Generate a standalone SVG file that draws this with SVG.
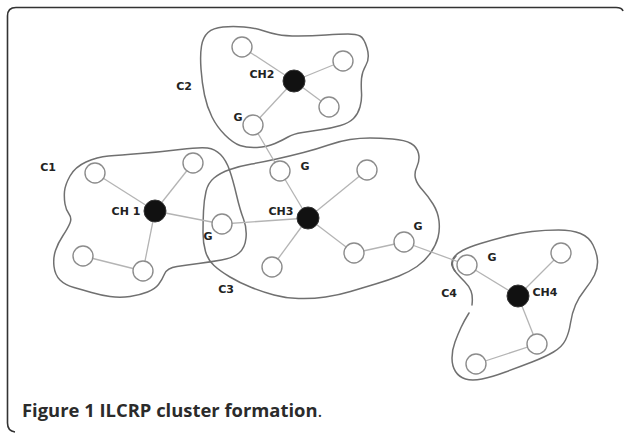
<svg xmlns="http://www.w3.org/2000/svg" width="624" height="433" viewBox="0 0 624 433">
<style>
.frame{fill:none;stroke:#333;stroke-width:1.6}
.cl{fill:none;stroke:#707070;stroke-width:1.5;stroke-linejoin:round;stroke-linecap:round}
.e{stroke:#b4b4b4;stroke-width:1.3;fill:none}
.n{fill:#fff;stroke:#8c8c8c;stroke-width:1.4}
.h{fill:#111;stroke:#333;stroke-width:1}
.lb{font-family:"DejaVu Sans",sans-serif;font-weight:bold;font-size:11px;fill:#222;text-anchor:middle}
.cap{font-family:"Open Sans","Liberation Sans",sans-serif;font-weight:bold;font-size:18.4px;fill:#2b2b2b}
</style>
<path class="frame" d="M623,11 Q622,7.5 616,7.5 L16,7.5 Q7.5,7.5 7.5,16 L7.5,423 Q7.5,431 15,432"/>
<g id="outlines">
<path id="C1-outline" class="cl" d="M64.5,191.5 Q65,185 70,176 Q75,167 86,162 Q97,157 108.5,156 Q120,155 140,153.5 Q160,152 180,149.5 Q200,147 207.5,148 Q215,149 220.5,154.5 Q226,160 229.5,170 Q233,180 236.5,195 Q240,210 243.5,219 Q247,228 246,238 Q245,248 239,253 Q233,258 221.5,260 Q210,262 198.5,263.5 Q187,265 177,266.5 Q167,268 164.5,274 Q162,280 158.5,284.5 Q155,289 147.5,292 Q140,295 130,296.5 Q120,298 110,296.5 Q100,295 91.5,292.5 Q83,290 74,287.5 Q65,285 60,280 Q55,275 54,266.5 Q53,258 55.5,250.5 Q58,243 63,235.5 Q68,228 70,223 Q72,218 69,214 Q66,210 65,204 Q64,198 64.5,191.5 Z"/>
<path id="C2-outline" class="cl" d="M201.5,46 Q203,37 208,32.5 Q213,28 223,27 Q233,26 244,27 Q255,28 262.5,30.5 Q270,33 277.5,34.5 Q285,36 298.5,36 Q312,36 326,35 Q340,34 348,34 Q356,34 360,36 Q364,38 367,48 Q370,58 366,65 Q362,72 361.5,78.5 Q361,85 361.5,92.5 Q362,100 360,107 Q358,114 353.5,118.5 Q349,123 340.5,125.5 Q332,128 322,129.5 Q312,131 302.5,132.5 Q293,134 288,137 Q283,140 275,143.5 Q267,147 257,147.5 Q247,148 240,145.5 Q233,143 225,135 Q217,127 212,117 Q207,107 204.5,95 Q202,83 201,69 Q200,55 201.5,46 Z"/>
<path id="C3-outline" class="cl" d="M203.5,211 Q204,200 206,191.5 Q208,183 214,178 Q220,173 230,169.5 Q240,166 251.5,164 Q263,162 276.5,159 Q290,156 303.5,152.5 Q317,149 328.5,145 Q340,141 350,139.5 Q360,138 370,138 Q380,138 392.5,139 Q405,140 411,143.5 Q417,147 418.5,153.5 Q420,160 417,166.5 Q414,173 415.5,178.5 Q417,184 422.5,190 Q428,196 433,204 Q438,212 439,221 Q440,230 438,237.5 Q436,245 430.5,253 Q425,261 417,266.5 Q409,272 399,276 Q389,280 375.5,284 Q362,288 350.5,291.5 Q339,295 325.5,297 Q312,299 298.5,298.5 Q285,298 274,295 Q263,292 251.5,287.5 Q240,283 230,277 Q220,271 214,265.5 Q208,260 205.5,251.5 Q203,243 203,232.5 Q203,222 203.5,211 Z"/>
<path id="C4-outline" class="cl" d="M472,305 Q473,296 471,291 Q469,286 464.5,281.5 Q460,277 456.5,273 Q453,269 452,265.5 Q451,262 453.5,258 Q456,254 462.5,250.5 Q469,247 480.5,243.5 Q492,240 505.5,236.5 Q519,233 532,231.5 Q545,230 558.5,230 Q572,230 580.5,233.5 Q589,237 593,245 Q597,253 597.5,260.5 Q598,268 594.5,275 Q591,282 585,289.5 Q579,297 575.5,305 Q572,313 570.5,323 Q569,333 565.5,340 Q562,347 553.5,352 Q545,357 532,362 Q519,367 505.5,372 Q492,377 482,379 Q472,381 465.5,379 Q459,377 455.5,371.5 Q452,366 452,358 Q452,350 455,342 Q458,334 461,327.5 Q464,321 469,313"/>
<path class="cl" d="M456,256 Q449,263 455,271"/>
</g>
<g id="connectors">
<line class="e" x1="294" y1="81" x2="242" y2="47"/>
<line class="e" x1="294" y1="81" x2="343" y2="61"/>
<line class="e" x1="294" y1="81" x2="329" y2="107"/>
<line class="e" x1="294" y1="81" x2="253" y2="125"/>
<line class="e" x1="253" y1="125" x2="280" y2="171"/>
<line class="e" x1="155" y1="211" x2="95" y2="173"/>
<line class="e" x1="155" y1="211" x2="193" y2="163"/>
<line class="e" x1="155" y1="211" x2="143" y2="271"/>
<line class="e" x1="143" y1="271" x2="83" y2="256"/>
<line class="e" x1="155" y1="211" x2="222" y2="224"/>
<line class="e" x1="222" y1="224" x2="308" y2="218"/>
<line class="e" x1="308" y1="218" x2="280" y2="171"/>
<line class="e" x1="308" y1="218" x2="367" y2="170"/>
<line class="e" x1="308" y1="218" x2="272" y2="267"/>
<line class="e" x1="308" y1="218" x2="354" y2="253"/>
<line class="e" x1="354" y1="253" x2="404" y2="242"/>
<line class="e" x1="404" y1="242" x2="467" y2="265"/>
<line class="e" x1="467" y1="265" x2="518" y2="296"/>
<line class="e" x1="518" y1="296" x2="561" y2="253"/>
<line class="e" x1="518" y1="296" x2="537" y2="344"/>
<line class="e" x1="537" y1="344" x2="476" y2="364"/>
</g>
<g id="C2">
<circle class="n" cx="242" cy="47" r="10"/>
<circle class="n" cx="343" cy="61" r="10"/>
<circle class="n" cx="329" cy="107" r="10"/>
<circle class="n" cx="253" cy="125" r="10"/>
<circle class="h" cx="294" cy="81" r="11"/>
<text class="lb" x="262" y="78">CH2</text>
<text class="lb" x="238" y="121">G</text>
<text class="lb" x="184" y="90">C2</text>
</g>
<g id="C1">
<circle class="n" cx="95" cy="173" r="10"/>
<circle class="n" cx="193" cy="163" r="10"/>
<circle class="n" cx="83" cy="256" r="10"/>
<circle class="n" cx="143" cy="271" r="10"/>
<circle class="h" cx="155" cy="211" r="11"/>
<text class="lb" x="126" y="215">CH 1</text>
<text class="lb" x="48" y="171">C1</text>
</g>
<g id="C3">
<circle class="n" cx="222" cy="224" r="10"/>
<circle class="n" cx="280" cy="171" r="10"/>
<circle class="n" cx="367" cy="170" r="10"/>
<circle class="n" cx="272" cy="267" r="10"/>
<circle class="n" cx="354" cy="253" r="10"/>
<circle class="n" cx="404" cy="242" r="10"/>
<circle class="h" cx="308" cy="218" r="11"/>
<text class="lb" x="281" y="215">CH3</text>
<text class="lb" x="208" y="240">G</text>
<text class="lb" x="305" y="170">G</text>
<text class="lb" x="418" y="230">G</text>
<text class="lb" x="226" y="293">C3</text>
</g>
<g id="C4">
<circle class="n" cx="467" cy="265" r="10"/>
<circle class="n" cx="561" cy="253" r="10"/>
<circle class="n" cx="537" cy="344" r="10"/>
<circle class="n" cx="476" cy="364" r="10"/>
<circle class="h" cx="518" cy="296" r="11"/>
<text class="lb" x="545" y="296">CH4</text>
<text class="lb" x="492" y="261">G</text>
<text class="lb" x="449" y="297">C4</text>
</g>
<text class="cap" x="22" y="417">Figure 1 ILCRP cluster formation<tspan font-weight="normal">.</tspan></text>
</svg>
